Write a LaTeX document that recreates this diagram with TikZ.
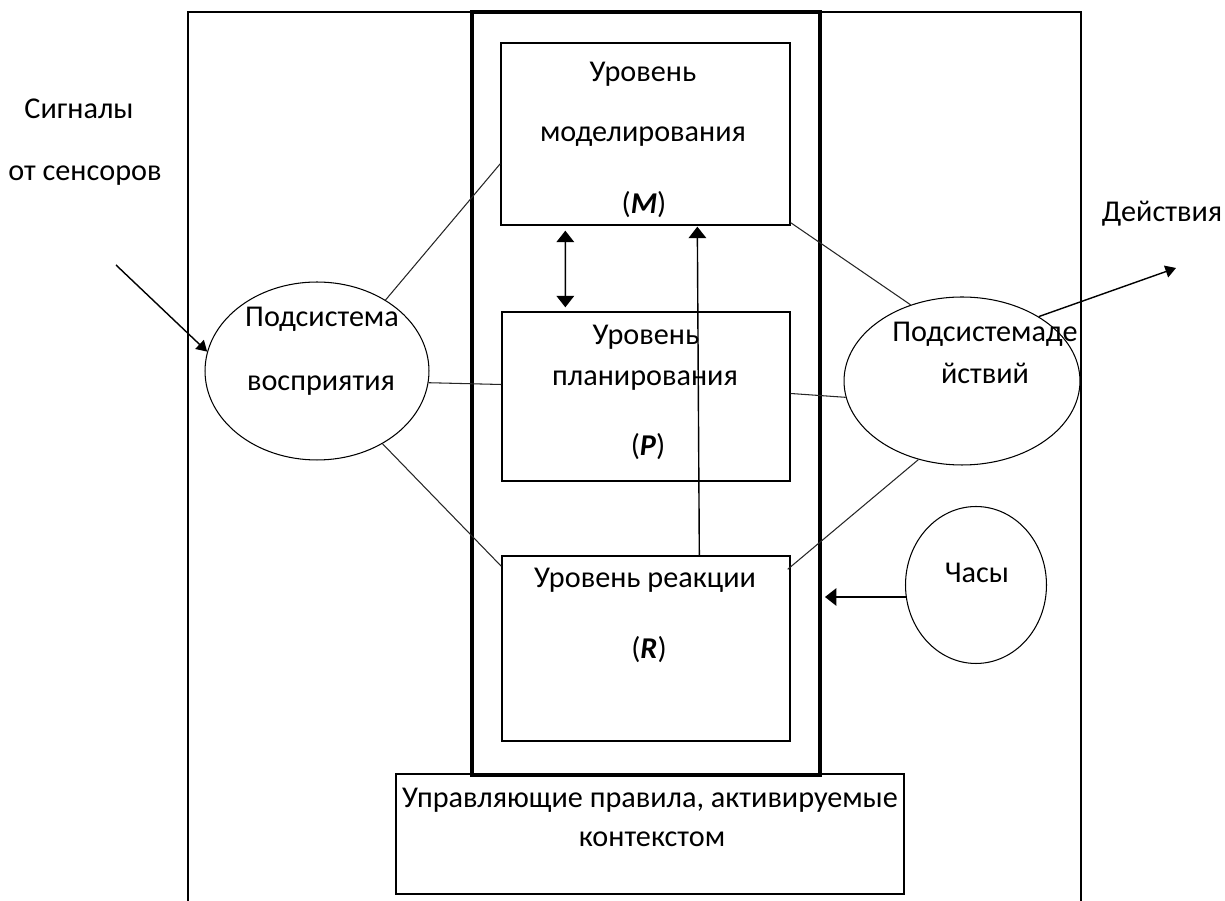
\documentclass[tikz,border=0pt]{standalone}
\usepackage{fontspec}
\setmainfont{Carlito}
\usetikzlibrary{arrows.meta,calc,shapes.geometric}
\begin{document}
\begin{tikzpicture}[x=0.02cm,y=-0.02cm,
  conn/.style={line width=0.6pt,draw=black!85},
  box/.style={draw,line width=0.8pt,inner sep=0pt,rectangle},
  oval/.style={draw,line width=0.6pt,ellipse,inner sep=0pt},
  lbl/.style={inner sep=0pt,font=\fontsize{17.2}{20}\selectfont},
  tip/.style={-{Triangle[width=7pt,length=6pt]}},
  bigtip/.style={-{Triangle[width=10pt,length=6.5pt]}},
]
\useasboundingbox (0,0) rectangle (1225,901);
% outer frame (open at the bottom)
\draw[line width=0.8pt] (188,901) -- (188,12) -- (1081,12) -- (1081,901);
% inner thick frame
\node[box,line width=2pt,minimum width=6.96cm,minimum height=15.26cm] (inner) at (646,393.5) {};
% level boxes
\node[box,minimum width=5.78cm,minimum height=3.64cm] (M) at (645.5,134) {};
\node[box,minimum width=5.76cm,minimum height=3.38cm] (P) at (646,396.5) {};
\node[box,minimum width=5.76cm,minimum height=3.70cm] (R) at (646,648.5) {};
\node[box,minimum width=10.16cm,minimum height=2.40cm] (rules) at (650,834) {};
% ellipses
\node[oval,minimum width=4.48cm,minimum height=3.56cm] (L) at (317,371) {};
\node[oval,minimum width=4.72cm,minimum height=3.36cm] (A) at (962,381) {};
\node[oval,minimum width=2.82cm,minimum height=3.14cm] (C) at (976,585) {};
% texts
\node[lbl] (m1) at (643,74) {Уровень};
\node[lbl] (m2) at (643,137) {моделирования};
\node[lbl] (m3) at (644,205) {(\textbf{\textit{M}})};
\node[lbl] (p1) at (646,337) {Уровень};
\node[lbl] (p2) at (645,381) {планирования};
\node[lbl] (p3) at (648,447) {(\textbf{\textit{P}})};
\node[lbl] (r1) at (645,580) {Уровень реакции};
\node[lbl] (r2) at (649,650) {(\textbf{\textit{R}})};
\node[lbl] (u1) at (650,800) {Управляющие правила, активируемые};
\node[lbl] (u2) at (652,839) {контекстом};
\node[lbl] (l1) at (322,319) {Подсистема};
\node[lbl] (l2) at (321,386) {восприятия};
\node[lbl] (a1) at (985,334) {Подсистемаде};
\node[lbl] (a2) at (985,373) {йствий};
\node[lbl] (c1) at (977,573) {Часы};
\node[lbl] (s1) at (79,109) {Сигналы};
\node[lbl] (s2) at (85,176) {от сенсоров};
\node[lbl] (d1) at (1162,214) {Действия};
% free ends
\coordinate (sigstart) at (116,265);
\coordinate (actend) at (1176,268);
\coordinate (clockend) at (825,597);
% connectors
\draw[conn] (L.46) -- ($(M.south west)+(0,-62)$);
\draw[conn] (L.-6) -- ($(P.west)+(0,-12)$);
\draw[conn] (L.-48) -- ($(R.north west)+(0,11)$);
\draw[conn] ($(M.south east)+(0,-3)$) -- (A.124);
\draw[conn] ($(P.east)+(0,-3)$) -- (A.188);
\draw[conn] ($(R.north east)+(-3,14)$) -- (A.241);
% arrows
\draw[line width=0.8pt,tip] (sigstart) -- (L.170);
\draw[line width=0.8pt,tip] (A.40) -- (actend);
\draw[line width=0.8pt,bigtip] ($(C.west)+(1,12)$) -- (clockend);
\draw[line width=0.8pt,{Triangle[width=10pt,length=6.5pt]}-{Triangle[width=10pt,length=6.5pt]}] ($(M.south west)+(65,5)$) -- ($(P.north west)+(64,-4)$);
\draw[line width=0.8pt,bigtip] ($(R.north west)+(198,0)$) -- ($(M.south west)+(197,1)$);
\end{tikzpicture}
\end{document}
